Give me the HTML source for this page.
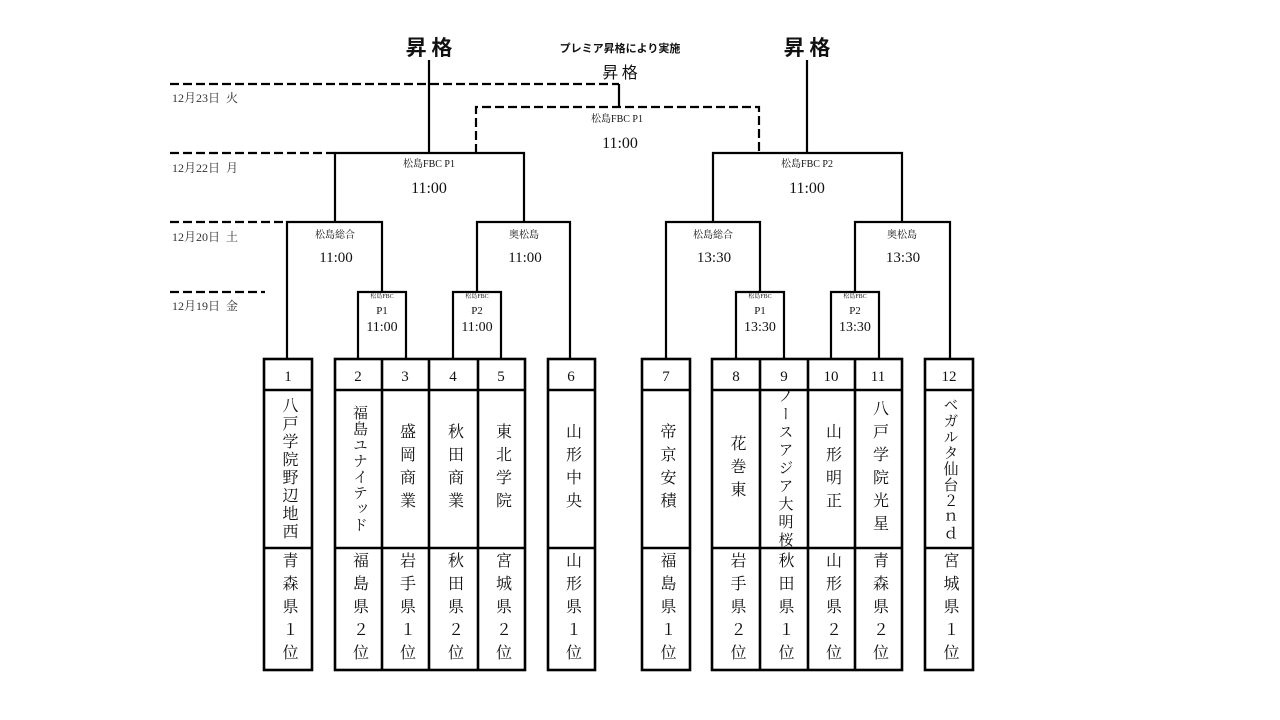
<!DOCTYPE html>
<html><head><meta charset="utf-8"><style>
html,body{margin:0;padding:0;background:#fff;}
#wrap{position:relative;width:1280px;height:720px;overflow:hidden;font-family:"Liberation Serif","Noto Serif CJK SC","Noto Sans CJK JP",serif;color:#111;}
svg{position:absolute;left:0;top:0;}
.v{position:absolute;display:flex;align-items:center;justify-content:center;}
.v span{writing-mode:vertical-rl;text-orientation:upright;font-size:16px;line-height:1;white-space:nowrap;}
</style></head><body><div id="wrap">
<svg width="1280" height="720" viewBox="0 0 1280 720">
<g stroke="#000" stroke-width="2.2" fill="none">
<g stroke-dasharray="9,4">
<line x1="170" y1="84" x2="619" y2="84"/>
<line x1="170" y1="153" x2="335" y2="153"/>
<line x1="170" y1="222" x2="287" y2="222"/>
<line x1="170" y1="292" x2="265" y2="292"/>
<polyline points="476,153 476,107 759,107 759,153"/>
</g>
<line x1="619" y1="84" x2="619" y2="107"/>
<line x1="429" y1="60" x2="429" y2="153"/>
<polyline points="335,222 335,153 524,153 524,222"/>
<polyline points="287,359 287,222 382,222 382,292"/>
<polyline points="477,292 477,222 570,222 570,359"/>
<polyline points="358,359 358,292 406,292 406,359"/>
<polyline points="453,359 453,292 501,292 501,359"/>
<line x1="807" y1="60" x2="807" y2="153"/>
<polyline points="713,222 713,153 902,153 902,222"/>
<polyline points="666,359 666,222 760,222 760,292"/>
<polyline points="855,292 855,222 950,222 950,359"/>
<polyline points="736,359 736,292 784,292 784,359"/>
<polyline points="831,359 831,292 879,292 879,359"/>
</g>
<g stroke="#000" stroke-width="2.6" fill="none">
<rect x="264" y="359" width="48" height="311"/>
<rect x="335" y="359" width="190" height="311"/>
<line x1="382" y1="359" x2="382" y2="670"/><line x1="429" y1="359" x2="429" y2="670"/><line x1="478" y1="359" x2="478" y2="670"/>
<rect x="548" y="359" width="47" height="311"/>
<rect x="642" y="359" width="48" height="311"/>
<rect x="712" y="359" width="190" height="311"/>
<line x1="760" y1="359" x2="760" y2="670"/><line x1="808" y1="359" x2="808" y2="670"/><line x1="855" y1="359" x2="855" y2="670"/>
<rect x="925" y="359" width="48" height="311"/>
<line x1="264" y1="390" x2="312" y2="390"/><line x1="264" y1="548" x2="312" y2="548"/>
<line x1="335" y1="390" x2="525" y2="390"/><line x1="335" y1="548" x2="525" y2="548"/>
<line x1="548" y1="390" x2="595" y2="390"/><line x1="548" y1="548" x2="595" y2="548"/>
<line x1="642" y1="390" x2="690" y2="390"/><line x1="642" y1="548" x2="690" y2="548"/>
<line x1="712" y1="390" x2="902" y2="390"/><line x1="712" y1="548" x2="902" y2="548"/>
<line x1="925" y1="390" x2="973" y2="390"/><line x1="925" y1="548" x2="973" y2="548"/>
</g>
<g fill="#111" text-anchor="middle" font-family="Liberation Serif, Noto Serif CJK SC, serif">
<text x="429" y="55" font-size="21" font-weight="bold" font-family="Noto Sans CJK JP, sans-serif">昇 格</text>
<text x="807" y="55" font-size="21" font-weight="bold" font-family="Noto Sans CJK JP, sans-serif">昇 格</text>
<text x="620" y="52" font-size="11" font-weight="bold" font-family="Noto Sans CJK JP, sans-serif">プレミア昇格により実施</text>
<text x="620" y="78" font-size="16" font-family="Noto Sans CJK JP, sans-serif">昇 格</text>
<text x="617" y="122" font-size="10">松島FBC P1</text>
<text x="620" y="148" font-size="16">11:00</text>
<text x="429" y="167" font-size="10">松島FBC P1</text>
<text x="429" y="193" font-size="16">11:00</text>
<text x="807" y="167" font-size="10">松島FBC P2</text>
<text x="807" y="193" font-size="16">11:00</text>
<text x="335" y="238" font-size="10">松島総合</text>
<text x="336" y="262" font-size="15">11:00</text>
<text x="524" y="238" font-size="10">奥松島</text>
<text x="525" y="262" font-size="15">11:00</text>
<text x="713" y="238" font-size="10">松島総合</text>
<text x="714" y="262" font-size="15">13:30</text>
<text x="902" y="238" font-size="10">奥松島</text>
<text x="903" y="262" font-size="15">13:30</text>
<g font-size="6"><text x="382" y="298">松島FBC</text><text x="477" y="298">松島FBC</text><text x="760" y="298">松島FBC</text><text x="855" y="298">松島FBC</text></g>
<g font-size="11"><text x="382" y="314">P1</text><text x="477" y="314">P2</text><text x="760" y="314">P1</text><text x="855" y="314">P2</text></g>
<g font-size="14"><text x="382" y="331">11:00</text><text x="477" y="331">11:00</text><text x="760" y="331">13:30</text><text x="855" y="331">13:30</text></g>
<g font-size="12" text-anchor="start" fill="#333">
<text x="172" y="102" xml:space="preserve">12月23日  火</text>
<text x="172" y="172" xml:space="preserve">12月22日  月</text>
<text x="172" y="241" xml:space="preserve">12月20日  土</text>
<text x="172" y="310" xml:space="preserve">12月19日  金</text>
</g>
<g font-size="15">
<text x="288" y="381">1</text><text x="358" y="381">2</text><text x="405" y="381">3</text><text x="453" y="381">4</text><text x="501" y="381">5</text><text x="571" y="381">6</text>
<text x="666" y="381">7</text><text x="736" y="381">8</text><text x="784" y="381">9</text><text x="831" y="381">10</text><text x="878" y="381">11</text><text x="949" y="381">12</text>
</g>
</g>
</svg>
<div class="v" style="left:264px;top:390px;width:48px;height:158px"><span style="letter-spacing:2px">八戸学院野辺地西</span></div>
<div class="v" style="left:335px;top:390px;width:47px;height:158px"><span style="letter-spacing:1px;font-size:15px">福島ユナイテッド</span></div>
<div class="v" style="left:382px;top:390px;width:47px;height:158px"><span style="letter-spacing:7px">盛岡商業</span></div>
<div class="v" style="left:429px;top:390px;width:49px;height:158px"><span style="letter-spacing:7px">秋田商業</span></div>
<div class="v" style="left:478px;top:390px;width:47px;height:158px"><span style="letter-spacing:7px">東北学院</span></div>
<div class="v" style="left:548px;top:390px;width:47px;height:158px"><span style="letter-spacing:7px">山形中央</span></div>
<div class="v" style="left:642px;top:390px;width:48px;height:158px"><span style="letter-spacing:7px">帝京安積</span></div>
<div class="v" style="left:712px;top:390px;width:48px;height:158px"><span style="letter-spacing:7px">花巻東</span></div>
<div class="v" style="left:760px;top:390px;width:48px;height:158px"><span style="letter-spacing:3px;font-size:15px">ノースアジア大明桜</span></div>
<div class="v" style="left:808px;top:390px;width:47px;height:158px"><span style="letter-spacing:7px">山形明正</span></div>
<div class="v" style="left:855px;top:390px;width:47px;height:158px"><span style="letter-spacing:7px">八戸学院光星</span></div>
<div class="v" style="left:925px;top:390px;width:48px;height:158px"><span style="letter-spacing:1px;font-size:15px">ベガルタ仙台２ｎｄ</span></div>
<div class="v" style="left:264px;top:548px;width:48px;height:122px"><span style="letter-spacing:7px">青森県１位</span></div>
<div class="v" style="left:335px;top:548px;width:47px;height:122px"><span style="letter-spacing:7px">福島県２位</span></div>
<div class="v" style="left:382px;top:548px;width:47px;height:122px"><span style="letter-spacing:7px">岩手県１位</span></div>
<div class="v" style="left:429px;top:548px;width:49px;height:122px"><span style="letter-spacing:7px">秋田県２位</span></div>
<div class="v" style="left:478px;top:548px;width:47px;height:122px"><span style="letter-spacing:7px">宮城県２位</span></div>
<div class="v" style="left:548px;top:548px;width:47px;height:122px"><span style="letter-spacing:7px">山形県１位</span></div>
<div class="v" style="left:642px;top:548px;width:48px;height:122px"><span style="letter-spacing:7px">福島県１位</span></div>
<div class="v" style="left:712px;top:548px;width:48px;height:122px"><span style="letter-spacing:7px">岩手県２位</span></div>
<div class="v" style="left:760px;top:548px;width:48px;height:122px"><span style="letter-spacing:7px">秋田県１位</span></div>
<div class="v" style="left:808px;top:548px;width:47px;height:122px"><span style="letter-spacing:7px">山形県２位</span></div>
<div class="v" style="left:855px;top:548px;width:47px;height:122px"><span style="letter-spacing:7px">青森県２位</span></div>
<div class="v" style="left:925px;top:548px;width:48px;height:122px"><span style="letter-spacing:7px">宮城県１位</span></div>
</div></body></html>
